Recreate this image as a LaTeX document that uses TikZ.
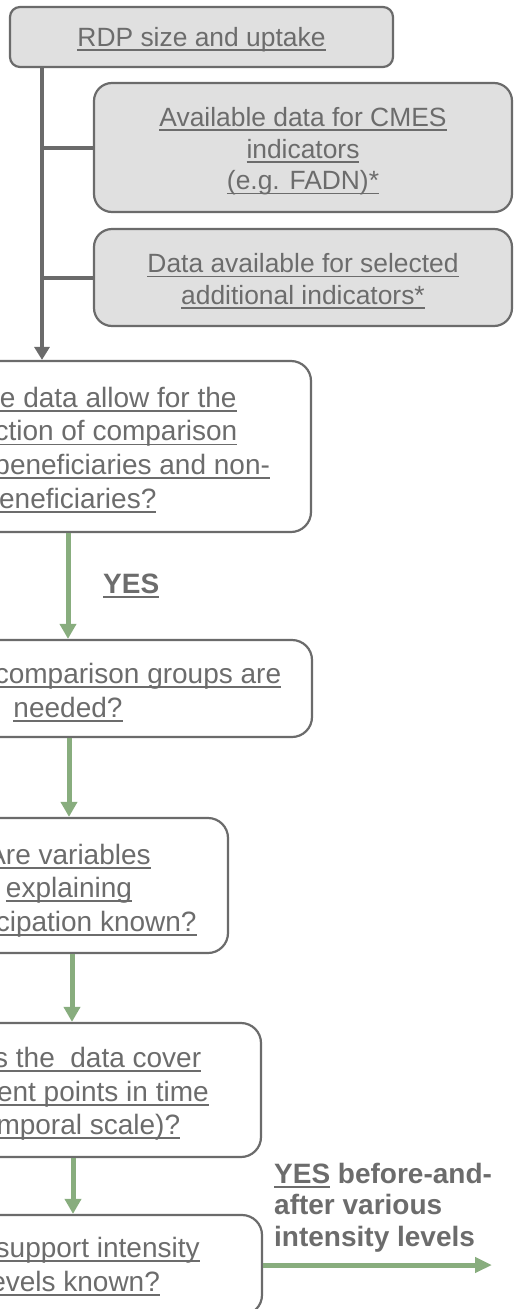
\documentclass[tikz,border=0pt]{standalone}
\usepackage{fontspec}
\setmainfont{Liberation Sans}
\usetikzlibrary{arrows.meta}
\definecolor{txt}{HTML}{6C6C6C}
\definecolor{bord}{HTML}{6B6B6B}
\definecolor{gfill}{HTML}{E0E0E0}
\definecolor{grn}{HTML}{88AD7E}
\newcommand{\ulx}[1]{\setbox0=\hbox{#1}\rlap{\rule[-4.5pt]{\wd0}{1.8pt}}\box0\relax}
\newcommand{\tall}[1]{\rule{0pt}{#1}}
\begin{document}
\begin{tikzpicture}[x=1pt,y=-1pt,
  graybox/.style={draw=bord, line width=2.2pt, fill=gfill, text=txt, align=center, inner sep=0pt, rounded corners=18pt, font=\fontsize{26.4}{31.7}\selectfont},
  qbox/.style={draw=bord, line width=2.2pt, fill=white, text=txt, align=center, inner sep=0pt, rounded corners=20pt, font=\fontsize{28}{33.6}\selectfont},
  trunk/.style={draw=bord, line width=4pt},
  garrow/.style={draw=grn, line width=5pt, -{Triangle[length=15pt,width=16pt]}},
  lbl/.style={text=txt, font=\fontsize{28}{31.5}\selectfont\bfseries, inner sep=0pt}]
\useasboundingbox (0,0) rectangle (515,1309);
\clip (0,0) rectangle (515,1309);
% gray boxes
\node[graybox, rounded corners=10pt, minimum width=383pt, minimum height=60pt, text depth=0pt, text height=19pt] (G1) at (201.5,37) {\ulx{RDP size and uptake}};
\node[graybox, minimum width=418pt, minimum height=129pt] (G2) at (303,147.5) {\tall{27pt}\ulx{Available data for CMES}\\\ulx{indicators}\\\ulx{(e.g. FADN)*}};
\node[graybox, minimum width=418pt, minimum height=97pt] (G3) at (303,277.5) {\tall{27pt}\ulx{Data available for selected}\\\ulx{additional indicators*}};
% question boxes
\node[qbox, minimum width=482pt, minimum height=171pt] (Q1) at (70,446.5) {\tall{27pt}\ulx{Does the data allow for the}\\\ulx{construction of comparison}\\\ulx{groups of beneficiaries and non-}\\\ulx{beneficiaries?}};
\node[qbox, minimum width=488pt, minimum height=97pt] (Q2) at (68,688.5) {\tall{28pt}\ulx{How many comparison groups are}\\\ulx{needed?}};
\node[qbox, minimum width=318pt, minimum height=135pt] (Q3) at (69,885.5) {\tall{30pt}\ulx{Are variables}\\\ulx{explaining}\\\ulx{participation known?}};
\node[qbox, minimum width=378pt, minimum height=134pt] (Q4) at (72,1090) {\tall{28pt}\ulx{Does the\ \ data cover}\\\ulx{different points in time}\\\ulx{(temporal scale)?}};
\node[qbox, minimum width=380pt, minimum height=100pt] (Q5) at (72,1265) {\tall{23pt}\ulx{Are support intensity}\\\ulx{levels known?}};
% labels
\node[lbl, anchor=base west] (yes1) at (103,593) {\ulx{YES}};
\node[lbl, align=left, anchor=north west] (yes2) at (274,1162.5) {\ulx{YES} before-and-\\after various\\intensity levels};
% helper coordinates
\coordinate (tr) at (42,0);
\coordinate (a1) at (68,0);
\coordinate (a2) at (69,0);
\coordinate (a3) at (72,0);
\coordinate (a4) at (73,0);
\coordinate (endR) at (492,0);
% connectors
\draw[trunk, -{Triangle[length=13pt,width=15pt]}] (G1.south -| tr) -- (Q1.north -| tr);
\draw[trunk] (G2.west -| tr) -- (G2.west);
\draw[trunk] (G3.west -| tr) -- (G3.west);
\draw[garrow] (Q1.south -| a1) -- (Q2.north -| a1);
\draw[garrow] (Q2.south -| a2) -- (Q3.north -| a2);
\draw[garrow] (Q3.south -| a3) -- (Q4.north -| a3);
\draw[garrow] (Q4.south -| a4) -- (Q5.north -| a4);
\draw[garrow, -{Triangle[length=17pt,width=15pt]}] (Q5.east) -- (Q5.east -| endR);
\end{tikzpicture}
\end{document}
